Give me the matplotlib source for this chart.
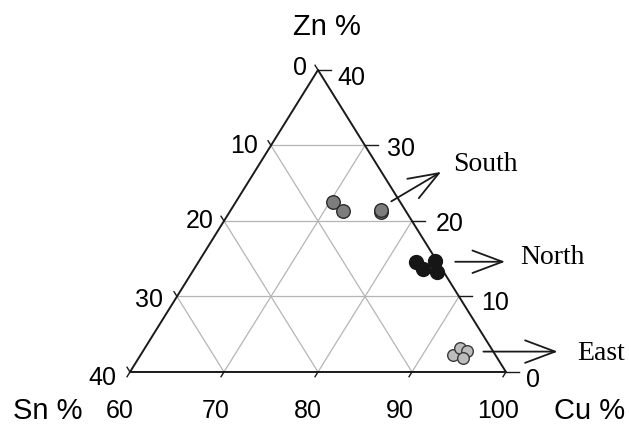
import numpy as np
import matplotlib
matplotlib.use("Agg")
import matplotlib.pyplot as plt

# compositions (wt %) of the three groups
south_cu = [70.4, 72.0, 76.1, 76.0]
south_sn = [7.1, 6.7, 2.7, 2.5]
south_zn = [22.5, 21.3, 21.2, 21.5]

north_cu = [83.1, 85.1, 84.4, 86.1]
north_sn = [2.3, 0.2, 2.0, 0.7]
north_zn = [14.6, 14.7, 13.6, 13.2]

east_cu = [93.2, 93.5, 94.5, 94.5]
east_sn = [4.5, 3.3, 2.7, 3.6]
east_zn = [2.3, 3.2, 2.8, 1.9]

cu_ticks = [60, 70, 80, 90, 100]
sn_ticks = [40, 30, 20, 10, 0]
zn_ticks = [0, 10, 20, 30, 40]

CU_MIN = 60


def to_xy(cu, zn):
    cu = np.asarray(cu, float)
    zn = np.asarray(zn, float)
    return (cu - CU_MIN) + zn / 2.0, zn


fig = plt.figure(figsize=(6.29, 4.28), dpi=100)
ax = fig.add_axes([0, 0, 1, 1])
ax.set_xlim(-13.83, 53.09)
ax.set_ylim(-7.42, 49.27)
ax.axis("off")

sans = "Liberation Sans"
serif = "Liberation Serif"
grid_c = "#b5b5b5"
ink = "#1a1a1a"

# grid lines
for v in [10, 20, 30]:
    # constant Zn
    x0, y0 = to_xy(CU_MIN, v)
    x1, y1 = to_xy(100 - v, v)
    ax.plot([x0, x1], [y0, y1], color=grid_c, lw=0.9, zorder=1)
    # constant Cu (parallel to the Sn side)
    cu = CU_MIN + v
    x0, y0 = to_xy(cu, 0)
    x1, y1 = to_xy(cu, 100 - cu)
    ax.plot([x0, x1], [y0, y1], color=grid_c, lw=0.9, zorder=1)
    # constant Sn (parallel to the Cu side)
    x0, y0 = to_xy(100 - v, 0)
    x1, y1 = to_xy(CU_MIN, 100 - CU_MIN - v)
    ax.plot([x0, x1], [y0, y1], color=grid_c, lw=0.9, zorder=1)

# triangle outline
tx, ty = to_xy([60, 100, 60, 60], [0, 0, 40, 0])
ax.plot(tx, ty, color=ink, lw=1.4, zorder=2)

# tick marks
tl = 1.4
for zn in zn_ticks:
    x, y = to_xy(100 - zn, zn)
    ax.plot([x, x + tl], [y, y], color=ink, lw=1.0)
for sn in sn_ticks:
    x, y = to_xy(CU_MIN, 100 - CU_MIN - sn)
    d = np.array([-20.0, 40.0]) / np.hypot(20, 40) * tl
    ax.plot([x, x + d[0] * 0.5], [y, y + d[1] * 0.5], color=ink, lw=1.0)
for cu in cu_ticks:
    x, y = to_xy(cu, 0)
    d = np.array([-20.0, -40.0]) / np.hypot(20, 40) * tl
    ax.plot([x, x + d[0] * 0.5], [y, y + d[1] * 0.5], color=ink, lw=1.0)

# tick labels
fs = 18
cu_label_x = [-1.06, 9.15, 18.9, 28.7, 39.2]
for cu, lx in zip(cu_ticks, cu_label_x):
    ax.text(lx, -5.2, str(cu), fontsize=fs, family=sans, ha="center", va="center")
sn_label_pos = [(-2.9, -0.8), (2.05, 9.5), (7.45, 20.0), (12.15, 29.9), (18.1, 40.3)]
for sn, (lx, ly) in zip(sn_ticks, sn_label_pos):
    ax.text(lx, ly, str(sn), fontsize=fs, family=sans, ha="center", va="center")
zn_label_pos = [(42.9, -1.0), (38.85, 9.2), (34.05, 19.6), (28.85, 29.6), (23.6, 39.0)]
for zn, (lx, ly) in zip(zn_ticks, zn_label_pos):
    ax.text(lx, ly, str(zn), fontsize=fs, family=sans, ha="center", va="center")

# axis titles
ax.text(-8.8, -5.2, "Sn %", fontsize=21, family=sans, ha="center", va="center")
ax.text(48.85, -5.2, "Cu %", fontsize=21, family=sans, ha="center", va="center")
ax.text(20.96, 45.7, "Zn %", fontsize=21, family=sans, ha="center", va="center")

# data points
x, y = to_xy(south_cu, south_zn)
ax.scatter(x, y, s=95, c="#7d7d7d", edgecolors="#2a2a2a", linewidths=1.0, zorder=4)
x, y = to_xy(north_cu, north_zn)
ax.scatter(x, y, s=100, c="#161616", edgecolors="#161616", linewidths=1.0, zorder=4)
x, y = to_xy(east_cu, east_zn)
ax.scatter(x, y, s=70, c="#bdbdbd", edgecolors="#3a3a3a", linewidths=1.0, zorder=4)

# group labels with arrows
arrow = dict(arrowstyle="->,head_length=0.8,head_width=0.3", lw=1.3, color=ink,
             mutation_scale=27, shrinkA=0, shrinkB=0)
ax.annotate("", xy=(33.1, 26.5), xytext=(27.8, 22.6), arrowprops=arrow)
ax.annotate("", xy=(39.9, 14.6), xytext=(34.6, 14.6), arrowprops=arrow)
ax.annotate("", xy=(45.5, 2.7), xytext=(37.6, 2.7), arrowprops=arrow)
ax.text(34.4, 27.5, "South", fontsize=20, family=serif, ha="left", va="center")
ax.text(41.5, 15.1, "North", fontsize=20, family=serif, ha="left", va="center")
ax.text(47.6, 2.5, "East", fontsize=20, family=serif, ha="left", va="center")

fig.savefig("out.png", dpi=100)
